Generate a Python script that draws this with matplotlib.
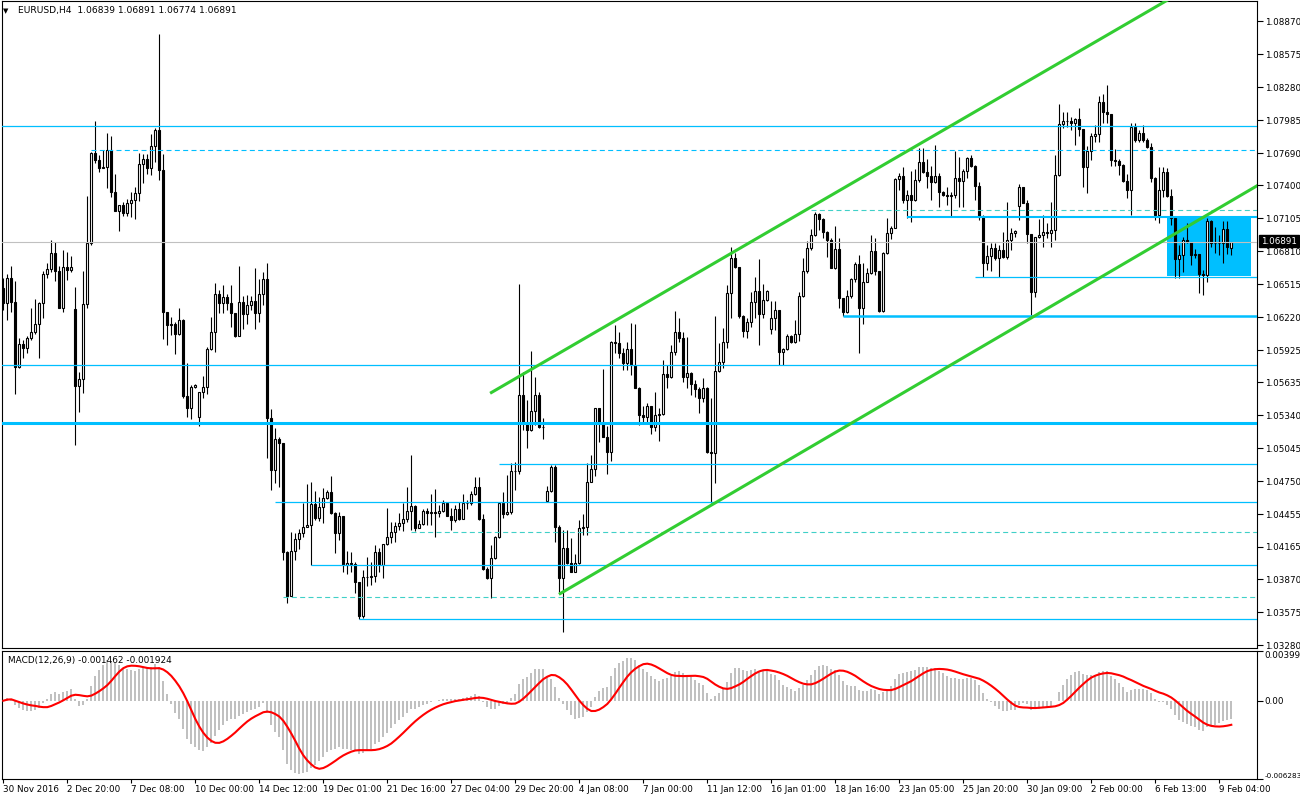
import numpy as np
import pandas as pd
import matplotlib
matplotlib.use("Agg")
import matplotlib.pyplot as plt
from matplotlib.patches import Rectangle

plt.rcParams['font.family'] = ['DejaVu Sans']

# ---------------- data (EURUSD H4) ----------------
first_open = 1.06478
closes = [
1.06344,1.06568,1.06359,1.05776,1.05976,1.05941,1.06030,1.06084,1.06156,1.06350,
1.06603,1.06648,1.06792,1.06636,1.06305,1.06666,1.06642,1.06666,1.05606,1.05666,
1.06335,1.06881,1.07687,1.07631,1.07559,1.07562,1.07714,1.07344,1.07174,1.07225,
1.07156,1.07239,1.07269,1.07329,1.07589,1.07634,1.07553,1.07750,1.07893,1.07535,
1.06263,1.06150,1.06162,1.06072,1.06195,1.05517,1.05403,1.05592,1.05613,1.05547,
1.05592,1.05935,1.06084,1.06425,1.06344,1.06398,1.06344,1.06255,1.06051,1.06353,
1.06246,1.06329,1.06365,1.06260,1.06425,1.06559,1.05314,1.04851,1.05126,1.05090,
1.04120,1.03725,1.04128,1.04230,1.04284,1.04343,1.04358,1.04546,1.04418,1.04523,
1.04597,1.04651,1.04469,1.04284,1.04439,1.04000,1.04015,1.04009,1.03845,1.03546,
1.03890,1.03890,1.03899,1.04120,1.04000,1.04185,1.04248,1.04299,1.04350,1.04373,
1.04412,1.04484,1.04528,1.04334,1.04367,1.04484,1.04469,1.04472,1.04469,1.04484,
1.04552,1.04442,1.04403,1.04499,1.04412,1.04552,1.04552,1.04633,1.04696,1.04412,
1.03961,1.03881,1.04060,1.04254,1.04553,1.04454,1.04478,1.04842,1.04842,1.05523,
1.05284,1.05209,1.05380,1.05523,1.05239,1.05233,1.04663,1.04875,1.04344,1.03887,
1.04149,1.04015,1.03940,1.04015,1.04329,1.04338,1.04747,1.04857,1.05404,1.05278,
1.05150,1.05009,1.06001,1.05992,1.05896,1.05807,1.05935,1.05792,1.05589,1.05344,
1.05329,1.05425,1.05239,1.05344,1.05350,1.05708,1.05687,1.05905,1.06084,1.06036,
1.05687,1.05717,1.05618,1.05573,1.05499,1.05582,1.05015,1.05000,1.05738,1.05821,
1.06000,1.06433,1.06747,1.06666,1.06230,1.06096,1.06174,1.06353,1.06454,1.06245,
1.06374,1.06454,1.06215,1.06284,1.05905,1.05932,1.06051,1.05994,1.06066,1.06410,
1.06634,1.06843,1.06956,1.07141,1.07099,1.06986,1.06911,1.06664,1.06831,1.06389,
1.06263,1.06410,1.06562,1.06693,1.06305,1.06538,1.06613,1.06813,1.06634,1.06275,
1.06792,1.06971,1.07022,1.07458,1.07488,1.07270,1.07315,1.07270,1.07449,1.07607,
1.07518,1.07488,1.07428,1.07488,1.07338,1.07315,1.07309,1.07315,1.07464,1.07440,
1.07530,1.07643,1.07577,1.07398,1.07120,1.06702,1.06767,1.06836,1.06747,1.06821,
1.06755,1.06911,1.06970,1.06991,1.07383,1.07245,1.06961,1.06448,1.06935,1.06956,
1.06985,1.06970,1.07000,1.07493,1.07950,1.07980,1.07974,1.07962,1.07992,1.07902,
1.07568,1.07711,1.07842,1.07860,1.08150,1.08054,1.08036,1.07627,1.07621,1.07583,
1.07442,1.07359,1.07920,1.07807,1.07866,1.07807,1.07748,1.07470,1.07135,1.07359,
1.07524,1.07306,1.07106,1.06741,1.06777,1.06911,1.06894,1.06777,1.06783,1.06604,
1.06598,1.07082,1.06882,1.06882,1.06882,1.07007,1.06846,1.06891]
highs = [
1.06568,1.06603,1.06678,1.06544,1.06030,1.06015,1.06051,1.06299,1.06382,1.06359,
1.06636,1.06708,1.06911,1.06893,1.06681,1.06822,1.06801,1.06768,1.06490,1.05732,
1.06633,1.07305,1.07702,1.07977,1.07672,1.07714,1.07873,1.07843,1.07502,1.07225,
1.07254,1.07278,1.07344,1.07383,1.07687,1.07681,1.07681,1.07861,1.07911,1.08753,
1.07681,1.06260,1.06219,1.06177,1.06299,1.06201,1.05807,1.05613,1.05621,1.05547,
1.05693,1.05950,1.06219,1.06529,1.06464,1.06508,1.06428,1.06508,1.06260,1.06679,
1.06413,1.06419,1.06410,1.06658,1.06559,1.06622,1.06702,1.05398,1.05224,1.05144,
1.05090,1.04125,1.04299,1.04284,1.04319,1.04558,1.04723,1.04741,1.04663,1.04612,
1.04687,1.04672,1.04797,1.04472,1.04478,1.04439,1.04125,1.04113,1.04024,1.03851,
1.03955,1.04072,1.04024,1.04179,1.04149,1.04191,1.04508,1.04388,1.04382,1.04469,
1.04558,1.04702,1.04985,1.04538,1.04403,1.04499,1.04514,1.04636,1.04678,1.04538,
1.04582,1.04561,1.04508,1.04538,1.04561,1.04633,1.04582,1.04663,1.04791,1.04791,
1.04454,1.03985,1.04179,1.04260,1.04559,1.04657,1.04806,1.04911,1.04926,1.06517,
1.05732,1.05478,1.05917,1.05687,1.05553,1.05314,1.04708,1.04896,1.04896,1.04359,
1.04314,1.04314,1.04239,1.04096,1.04403,1.04454,1.04911,1.04986,1.05410,1.05410,
1.05756,1.05248,1.06007,1.06150,1.06090,1.05941,1.06001,1.06165,1.06156,1.05598,
1.05427,1.05448,1.05425,1.05553,1.05409,1.05836,1.05791,1.05971,1.06275,1.06209,
1.06090,1.06045,1.05732,1.05657,1.05597,1.05672,1.05597,1.05493,1.06230,1.05986,
1.06120,1.06508,1.06851,1.06792,1.06670,1.06236,1.06209,1.06448,1.06583,1.06741,
1.06514,1.06463,1.06365,1.06365,1.06284,1.05941,1.06066,1.06057,1.06195,1.06442,
1.06747,1.06900,1.07010,1.07159,1.07150,1.07105,1.06991,1.06926,1.07040,1.06926,
1.06395,1.06463,1.06568,1.06717,1.06777,1.06702,1.06658,1.06956,1.06926,1.06634,
1.06801,1.07112,1.07040,1.07464,1.07509,1.07562,1.07359,1.07529,1.07544,1.07733,
1.07733,1.07637,1.07577,1.07762,1.07509,1.07353,1.07389,1.07338,1.07709,1.07658,
1.07544,1.07658,1.07673,1.07583,1.07430,1.07135,1.06866,1.06881,1.06881,1.06866,
1.06985,1.07254,1.07015,1.07000,1.07412,1.07388,1.07269,1.06961,1.06941,1.07096,
1.07135,1.07060,1.07254,1.07672,1.08129,1.08060,1.08060,1.08010,1.08001,1.08090,
1.07908,1.07753,1.07866,1.07941,1.08201,1.08219,1.08299,1.08042,1.07723,1.07633,
1.07592,1.07499,1.07956,1.07962,1.07896,1.07942,1.07822,1.07777,1.07479,1.07562,
1.07562,1.07553,1.07365,1.07115,1.06867,1.06941,1.07067,1.06894,1.06828,1.06789,
1.06643,1.07106,1.07091,1.07025,1.06956,1.07082,1.07082,1.06891]
lows = [
1.06284,1.06194,1.06263,1.05529,1.05761,1.05857,1.05896,1.06015,1.06066,1.05851,
1.06209,1.06568,1.06627,1.06544,1.06305,1.06263,1.06553,1.06621,1.05075,1.05373,
1.05544,1.06305,1.06866,1.07598,1.07517,1.07553,1.07380,1.07299,1.07174,1.06995,
1.07129,1.07126,1.07114,1.07099,1.07263,1.07425,1.07505,1.07496,1.07607,1.07448,
1.06021,1.05971,1.06060,1.05890,1.06060,1.05499,1.05329,1.05308,1.05583,1.05248,
1.05499,1.05532,1.05926,1.05911,1.06260,1.06260,1.06284,1.06135,1.06039,1.06051,
1.06111,1.06156,1.06284,1.06114,1.06180,1.06329,1.04962,1.04672,1.04738,1.04696,
1.04045,1.03657,1.03725,1.04045,1.04140,1.04254,1.04338,1.04000,1.04403,1.04394,
1.04380,1.04588,1.04460,1.04105,1.04224,1.03940,1.03916,1.03940,1.03746,1.03516,
1.03528,1.03815,1.03821,1.03851,1.03940,1.03881,1.04179,1.04194,1.04209,1.04314,
1.04308,1.04388,1.04314,1.04305,1.04334,1.04358,1.04358,1.04358,1.04254,1.04433,
1.04478,1.04442,1.04314,1.04382,1.04403,1.04412,1.04502,1.04538,1.04627,1.04403,
1.03955,1.03875,1.03707,1.04054,1.04240,1.04418,1.04450,1.04454,1.04672,1.04812,
1.05209,1.05051,1.05200,1.05254,1.05230,1.05126,1.04568,1.04650,1.04209,1.03755,
1.03397,1.04006,1.03934,1.03940,1.04009,1.04269,1.04269,1.04741,1.04797,1.05105,
1.05144,1.04815,1.04932,1.05896,1.05857,1.05747,1.05747,1.05702,1.05583,1.05254,
1.05284,1.05269,1.05171,1.05201,1.05111,1.05344,1.05582,1.05672,1.05881,1.06000,
1.05642,1.05582,1.05523,1.05508,1.05358,1.05463,1.05000,1.04552,1.04731,1.05726,
1.05762,1.05941,1.06210,1.06657,1.06210,1.06045,1.06030,1.06135,1.06215,1.05971,
1.06215,1.06365,1.06066,1.06105,1.05791,1.05791,1.05926,1.05985,1.05985,1.06006,
1.06404,1.06619,1.06820,1.06950,1.07001,1.06926,1.06762,1.06658,1.06652,1.06305,
1.06230,1.06254,1.06389,1.06538,1.05896,1.06156,1.06532,1.06607,1.06598,1.06269,
1.06269,1.06786,1.06920,1.07016,1.07359,1.07240,1.07105,1.07076,1.07264,1.07434,
1.07509,1.07380,1.07270,1.07422,1.07210,1.07309,1.07225,1.07120,1.07285,1.07210,
1.07210,1.07470,1.07568,1.07270,1.07091,1.06583,1.06642,1.06636,1.06732,1.06582,
1.06746,1.06737,1.06821,1.06940,1.07090,1.07239,1.06881,1.06239,1.06403,1.06926,
1.06851,1.06926,1.06851,1.06911,1.07487,1.07911,1.07926,1.07896,1.07762,1.07842,
1.07382,1.07329,1.07627,1.07792,1.07792,1.07956,1.07956,1.07574,1.07574,1.07493,
1.07433,1.07284,1.07135,1.07792,1.07792,1.07792,1.07733,1.07434,1.07091,1.07061,
1.07300,1.07294,1.07046,1.06568,1.06568,1.06628,1.06885,1.06687,1.06750,1.06434,
1.06419,1.06538,1.06846,1.06792,1.06777,1.06708,1.06786,1.06774]
# bars whose open differs from previous close (weekend / news gaps)
gap_opens = {18: 1.06293, 49: 1.05329, 136: 1.04574, 192: 1.06111,
             254: 1.07215, 307: 1.06839}

bid = 1.06891

# horizontal level objects: price, first bar
solid_levels = [1.07930, 1.06577, 1.05789, 1.04902, 1.04561, 1.04000, 1.03516]
solid_starts = [-1, 243, -1, 124, 68, 77, 89]
thick_levels = [1.07114, 1.06228, 1.05269]
thick_starts = [226, 210, -1]
thick_widths = [1.5, 1.8, 2.2]
dash_cyan_levels = [1.07715]
dash_cyan_starts = [22]
dash_teal_levels = [1.07177, 1.04293, 1.03710]
dash_teal_starts = [202, 102, 70]

# channel trend lines: (bar, price) anchors
upper_anchor = [(121.7, 1.05538), (256.6, 1.08344)]
lower_anchor = [(138.9, 1.03737), (313.35, 1.07395)]

# rectangle (bar range, price range)
rect_bars = (290.85, 311.9)
rect_prices = (1.06591, 1.07114)

price_ticks = [1.08870, 1.08575, 1.08280, 1.07985, 1.07690, 1.07400, 1.07105,
               1.06810, 1.06515, 1.06220, 1.05925, 1.05635, 1.05340, 1.05045,
               1.04750, 1.04455, 1.04165, 1.03870, 1.03575, 1.03280]
time_tick_bars = [0, 16, 32, 48, 64, 80, 96, 112, 128, 144, 160, 176, 192,
                  208, 224, 240, 256, 272, 288, 304]
time_labels = ["30 Nov 2016", "2 Dec 20:00", "7 Dec 08:00", "10 Dec 00:00",
               "14 Dec 12:00", "19 Dec 01:00", "21 Dec 16:00", "27 Dec 04:00",
               "29 Dec 20:00", "4 Jan 08:00", "7 Jan 00:00", "11 Jan 12:00",
               "16 Jan 01:00", "18 Jan 16:00", "23 Jan 05:00", "25 Jan 20:00",
               "30 Jan 09:00", "2 Feb 00:00", "6 Feb 13:00", "9 Feb 04:00"]

# ---------------- figure ----------------
W, H = 1300, 800
fig = plt.figure(figsize=(13, 8), dpi=100)
fig.patch.set_facecolor('white')


def fx(px):
    return px / W


def fy(py):
    return 1 - py / H


ax = fig.add_axes([fx(2), fy(648), fx(1257) - fx(2), fy(1) - fy(648)])
axm = fig.add_axes([fx(2), fy(779), fx(1257) - fx(2), fy(651) - fy(779)])

XL = (-0.325, 313.425)
CYAN = '#00BFFF'
TEAL = '#40D0C8'
GREEN = '#32CD32'
FS = 6.3

n = len(closes)
idx = np.arange(n)
opens = [first_open] + closes[:-1]
for k, v in gap_opens.items():
    opens[k] = v
o = np.array(opens)
c = np.array(closes)
hi = np.maximum.reduce([np.array(highs), o, c])
lo = np.minimum.reduce([np.array(lows), o, c])

# rectangle in background
ax.add_patch(Rectangle((rect_bars[0], rect_prices[0]), rect_bars[1] - rect_bars[0],
                       rect_prices[1] - rect_prices[0], facecolor=CYAN,
                       edgecolor='none', zorder=1))

# candles
ax.vlines(idx, lo, hi, color='black', lw=0.8, zorder=3)
up = c >= o
bot = np.minimum(o, c)
hgt = np.maximum(np.abs(c - o), 1e-6)
ax.bar(idx[up], hgt[up], bottom=bot[up], width=0.5, color='white',
       edgecolor='black', lw=0.8, zorder=4)
ax.bar(idx[~up], hgt[~up], bottom=bot[~up], width=0.5, color='black',
       edgecolor='black', lw=0.8, zorder=4)

# level lines
for p, s in zip(solid_levels, solid_starts):
    ax.hlines(p, s, XL[1] + 5, color=CYAN, lw=0.9, zorder=5)
for p, s, w in zip(thick_levels, thick_starts, thick_widths):
    ax.hlines(p, s, XL[1] + 5, color=CYAN, lw=w, zorder=5)
for p, s in zip(dash_cyan_levels, dash_cyan_starts):
    ax.hlines(p, s, XL[1] + 5, color=CYAN, lw=0.8, zorder=5,
              linestyles=(0, (4.5, 3)))
for p, s in zip(dash_teal_levels, dash_teal_starts):
    ax.hlines(p, s, XL[1] + 5, color=TEAL, lw=0.8, zorder=5,
              linestyles=(0, (4.5, 3)))
ax.axhline(bid, color='#C0C0C0', lw=0.8, zorder=5)

# channel rays
for (b0, p0), (b1, p1) in (upper_anchor, lower_anchor):
    slope = (p1 - p0) / (b1 - b0)
    bx = np.array([b0, 340.0])
    ax.plot(bx, p0 + slope * (bx - b0), color=GREEN, lw=2.2, zorder=6,
            solid_capstyle='butt')

ax.set_xlim(*XL)
ax.set_ylim(1.032562, 1.090520)
ax.set_xticks([])
ax.yaxis.tick_right()
ax.set_yticks(price_ticks)
ax.set_yticklabels([f"{v:.5f}" for v in price_ticks])
ax.tick_params(axis='y', direction='out', length=4, width=0.8, labelsize=FS,
               pad=2, colors='black')

# ---------------- MACD ----------------
s = pd.Series(closes)
macd_main = s.ewm(span=12, adjust=False).mean() - s.ewm(span=26, adjust=False).mean()
macd_sig = macd_main.rolling(9, min_periods=1).mean()
axm.bar(idx, macd_main.values, width=0.5, color='#C0C0C0', zorder=2)
axm.plot(idx, macd_sig.values, color='#FF0000', lw=1.5, zorder=3)
axm.set_xlim(*XL)
axm.set_ylim(-0.006283, 0.00399)
axm.yaxis.tick_right()
axm.set_yticks([0.00399, 0.0, -0.006283])
axm.set_yticklabels(['0.00399', '0.00', '-0.006283'])
axm.tick_params(axis='y', direction='out', length=4, width=0.8, labelsize=FS,
                pad=1.5)
ylabs = axm.get_yticklabels()
ylabs[0].set_va('top')
ylabs[2].set_va('bottom')
ylabs[2].set_fontsize(5.2)
axm.set_xticks(time_tick_bars)
axm.set_xticklabels(time_labels)
for t in axm.get_xticklabels():
    t.set_ha('left')
axm.tick_params(axis='x', direction='out', length=3, width=0.8, labelsize=FS,
                pad=1)

for a in (ax, axm):
    for sp in a.spines.values():
        sp.set_linewidth(0.8)
        sp.set_color('black')

# ---------------- texts ----------------
fig.text(fx(3), fy(11), '▼', fontsize=5, va='center', ha='left')
fig.text(fx(18), fy(11), 'EURUSD,H4  1.06839 1.06891 1.06774 1.06891',
         fontsize=6.6, va='center', ha='left')
fig.text(fx(8), fy(660), 'MACD(12,26,9) -0.001462 -0.001924',
         fontsize=6.4, va='center', ha='left')
fig.text(fx(1261), fy(241), f"{bid:.5f}", fontsize=FS, color='white',
         va='center', ha='left',
         bbox=dict(facecolor='black', edgecolor='black', pad=1.2))

fig.savefig('out.png', dpi=100, facecolor='white')
